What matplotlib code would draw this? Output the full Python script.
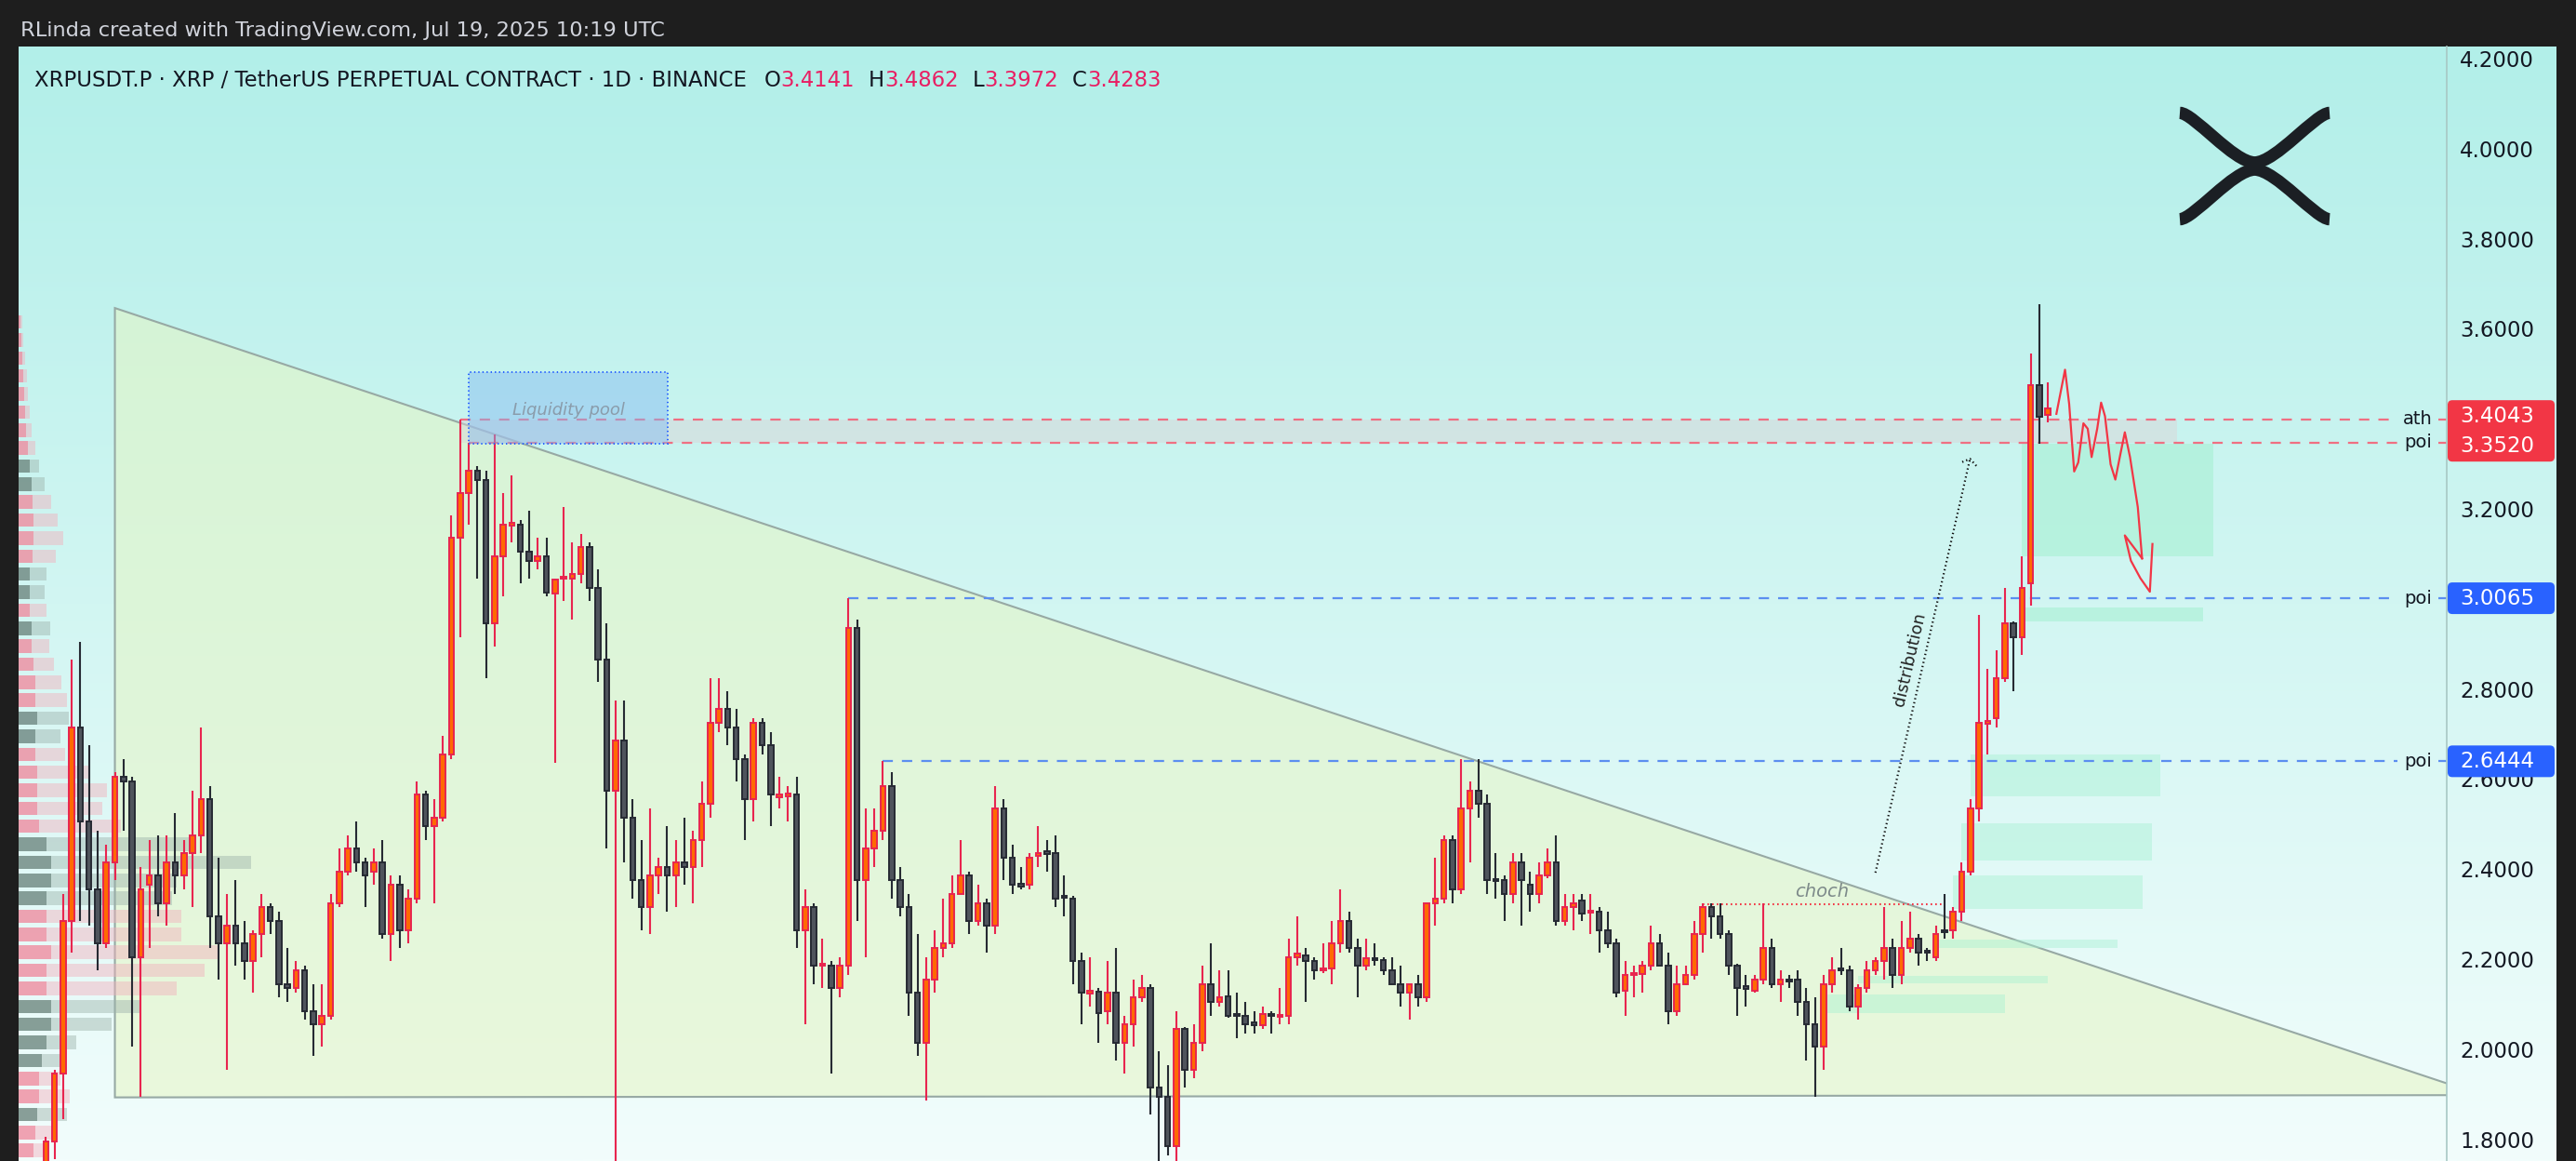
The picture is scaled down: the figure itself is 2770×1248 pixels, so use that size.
import numpy as np
import matplotlib
matplotlib.use("Agg")
import matplotlib.pyplot as plt
from matplotlib.patches import Polygon, Rectangle, FancyBboxPatch, PathPatch
from matplotlib.path import Path
from matplotlib.transforms import IdentityTransform
from matplotlib.lines import Line2D
import matplotlib.colors as mcolors

W, H = 2770, 1248
plt.rcParams['lines.scale_dashes'] = False
plt.rcParams['font.family'] = ['DejaVu Sans']

# ---------------- data (daily candles, XRPUSDT.P) ----------------
opens = [1.70,1.80,1.95,2.29,2.72,2.51,2.36,2.24,2.42,2.61,2.60,2.21,2.37,2.39,2.33,2.42,2.39,2.44,2.48,2.56,
         2.30,2.24,2.28,2.24,2.20,2.26,2.32,2.29,2.15,2.14,2.18,2.09,2.06,2.08,2.33,2.40,2.45,2.42,2.40,2.42,
         2.26,2.37,2.27,2.34,2.57,2.50,2.52,2.66,3.14,3.24,3.29,3.27,2.95,3.10,3.168,3.17,3.11,3.09,3.10,3.016,
         3.05,3.05,3.06,3.12,3.03,2.87,2.58,2.69,2.52,2.38,2.32,2.39,2.41,2.39,2.42,2.41,2.47,2.55,2.73,2.76,
         2.72,2.65,2.56,2.73,2.68,2.565,2.566,2.57,2.27,2.32,2.19,2.19,2.14,2.19,2.94,2.38,2.45,2.49,2.59,2.38,
         2.32,2.13,2.02,2.16,2.23,2.24,2.35,2.39,2.29,2.33,2.28,2.54,2.43,2.373,2.37,2.435,2.443,2.44,2.345,2.34,
         2.20,2.129,2.132,2.09,2.13,2.02,2.06,2.12,2.14,1.92,1.90,1.79,2.05,1.96,2.02,2.15,2.11,2.123,2.08,2.078,
         2.061,2.058,2.082,2.077,2.08,2.21,2.213,2.20,2.18,2.185,2.24,2.29,2.23,2.19,2.207,2.203,2.18,2.15,2.13,2.15,
         2.12,2.33,2.34,2.47,2.36,2.54,2.58,2.55,2.381,2.38,2.35,2.42,2.37,2.35,2.39,2.42,2.29,2.32,2.335,2.308,
         2.31,2.27,2.24,2.135,2.169,2.173,2.19,2.24,2.19,2.09,2.15,2.17,2.26,2.32,2.30,2.26,2.19,2.145,2.135,2.16,
         2.23,2.15,2.16,2.16,2.11,2.06,2.01,2.15,2.185,2.18,2.10,2.14,2.18,2.20,2.23,2.17,2.23,2.25,2.222,2.21,
         2.268,2.27,2.31,2.40,2.54,2.728,2.74,2.83,2.95,2.92,3.04,3.48,3.4141]
highs = [1.81,1.96,2.35,2.87,2.91,2.68,2.49,2.46,2.62,2.65,2.61,2.41,2.47,2.48,2.48,2.53,2.47,2.58,2.72,2.59,
         2.43,2.35,2.38,2.29,2.27,2.35,2.33,2.31,2.23,2.20,2.19,2.15,2.15,2.35,2.45,2.48,2.51,2.43,2.45,2.47,
         2.39,2.39,2.36,2.60,2.58,2.56,2.70,3.19,3.4043,3.352,3.30,3.29,3.37,3.24,3.28,3.18,3.20,3.14,3.14,3.05,
         3.21,3.13,3.15,3.13,3.07,2.95,2.78,2.78,2.56,2.47,2.54,2.43,2.50,2.47,2.52,2.49,2.60,2.83,2.83,2.80,
         2.76,2.66,2.74,2.74,2.71,2.61,2.59,2.61,2.36,2.33,2.25,2.20,2.21,3.0065,2.96,2.54,2.54,2.6444,2.62,2.41,
         2.35,2.26,2.21,2.27,2.34,2.39,2.47,2.40,2.37,2.34,2.59,2.56,2.46,2.41,2.44,2.50,2.47,2.48,2.39,2.345,
         2.22,2.21,2.14,2.20,2.23,2.08,2.16,2.17,2.15,2.00,1.97,2.09,2.055,2.06,2.19,2.24,2.18,2.18,2.13,2.11,
         2.09,2.10,2.09,2.14,2.25,2.30,2.23,2.21,2.24,2.29,2.36,2.31,2.25,2.25,2.24,2.21,2.21,2.19,2.15,2.17,
         2.33,2.43,2.48,2.48,2.65,2.60,2.65,2.57,2.44,2.39,2.44,2.44,2.40,2.42,2.45,2.48,2.35,2.35,2.35,2.35,
         2.32,2.31,2.25,2.20,2.19,2.20,2.28,2.26,2.22,2.19,2.19,2.29,2.33,2.33,2.33,2.27,2.195,2.17,2.17,2.33,
         2.25,2.18,2.17,2.18,2.14,2.12,2.17,2.21,2.23,2.19,2.15,2.20,2.21,2.32,2.25,2.29,2.31,2.26,2.23,2.28,
         2.35,2.32,2.42,2.56,2.97,2.85,2.89,3.03,2.955,3.10,3.55,3.66,3.4862]
lows = [1.65,1.76,1.85,2.22,2.29,2.28,2.18,2.23,2.38,2.49,2.01,1.90,2.23,2.30,2.28,2.35,2.36,2.32,2.44,2.23,
        2.16,1.96,2.19,2.16,2.13,2.21,2.26,2.12,2.11,2.13,2.07,1.99,2.01,2.07,2.32,2.39,2.40,2.32,2.37,2.25,
        2.20,2.23,2.24,2.33,2.47,2.33,2.51,2.65,2.92,3.17,3.05,2.83,2.90,3.01,3.13,3.04,3.05,3.07,3.01,2.64,
        3.00,2.96,3.04,3.00,2.82,2.45,1.75,2.42,2.34,2.27,2.26,2.35,2.31,2.32,2.37,2.33,2.41,2.52,2.71,2.68,
        2.60,2.47,2.51,2.66,2.50,2.54,2.51,2.23,2.06,2.15,2.14,1.95,2.12,2.17,2.29,2.21,2.41,2.47,2.34,2.30,
        2.08,1.99,1.89,2.13,2.21,2.23,2.35,2.26,2.28,2.22,2.26,2.38,2.35,2.36,2.36,2.41,2.40,2.32,2.30,2.15,
        2.06,2.10,2.02,2.06,1.98,1.95,2.01,2.11,1.86,1.75,1.77,1.75,1.92,1.94,2.00,2.08,2.10,2.075,2.03,2.04,
        2.04,2.05,2.04,2.06,2.06,2.19,2.11,2.16,2.175,2.15,2.22,2.22,2.12,2.18,2.19,2.17,2.15,2.10,2.07,2.10,
        2.11,2.28,2.33,2.33,2.35,2.42,2.52,2.35,2.34,2.29,2.33,2.28,2.31,2.33,2.385,2.28,2.28,2.27,2.29,2.26,
        2.22,2.23,2.12,2.08,2.12,2.13,2.18,2.19,2.06,2.08,2.148,2.16,2.22,2.25,2.25,2.17,2.08,2.10,2.13,2.15,
        2.14,2.11,2.14,2.08,1.98,1.90,1.96,2.13,2.17,2.09,2.07,2.13,2.17,2.16,2.14,2.15,2.22,2.19,2.20,2.20,
        2.25,2.25,2.29,2.39,2.51,2.66,2.72,2.82,2.80,2.88,2.99,3.35,3.3972]
closes = [1.80,1.95,2.29,2.72,2.51,2.36,2.24,2.42,2.61,2.60,2.21,2.36,2.39,2.33,2.42,2.39,2.44,2.48,2.56,2.30,
          2.24,2.28,2.24,2.20,2.26,2.32,2.29,2.15,2.14,2.18,2.09,2.06,2.08,2.33,2.40,2.45,2.42,2.39,2.42,2.26,
          2.37,2.27,2.34,2.57,2.50,2.52,2.66,3.14,3.24,3.29,3.27,2.95,3.10,3.17,3.175,3.11,3.09,3.10,3.02,3.047,
          3.055,3.06,3.12,3.03,2.87,2.58,2.69,2.52,2.38,2.32,2.39,2.41,2.39,2.42,2.41,2.47,2.55,2.73,2.76,2.72,
          2.65,2.56,2.73,2.68,2.57,2.57,2.572,2.27,2.32,2.19,2.195,2.14,2.19,2.94,2.38,2.45,2.49,2.59,2.38,2.32,
          2.13,2.02,2.16,2.23,2.24,2.35,2.39,2.29,2.33,2.28,2.54,2.43,2.37,2.366,2.43,2.441,2.439,2.34,2.341,2.20,
          2.13,2.132,2.085,2.13,2.02,2.06,2.12,2.14,1.92,1.90,1.79,2.05,1.96,2.02,2.15,2.11,2.12,2.079,2.078,2.06,
          2.059,2.083,2.079,2.081,2.21,2.218,2.20,2.18,2.185,2.24,2.29,2.23,2.19,2.207,2.203,2.18,2.15,2.13,2.15,2.12,
          2.33,2.34,2.47,2.36,2.54,2.58,2.55,2.38,2.378,2.35,2.42,2.38,2.35,2.39,2.42,2.29,2.32,2.33,2.306,2.312,
          2.27,2.24,2.13,2.17,2.173,2.19,2.24,2.19,2.09,2.15,2.17,2.26,2.32,2.30,2.26,2.19,2.14,2.139,2.16,2.23,
          2.15,2.16,2.155,2.11,2.06,2.01,2.15,2.18,2.18,2.10,2.14,2.18,2.20,2.23,2.17,2.23,2.25,2.22,2.219,2.26,
          2.264,2.31,2.40,2.54,2.73,2.733,2.83,2.95,2.92,3.03,3.48,3.41,3.4283]

price_ticks = [4.2, 4.0, 3.8, 3.6, 3.4, 3.2, 3.0, 2.8, 2.6, 2.4, 2.2, 2.0, 1.8]

# horizontal levels: (price, start candle, label, kind)
level_prices = [3.4043, 3.3520, 3.0065, 2.6444]
level_starts = [48, 49, 93, 97]
level_labels = ['ath', 'poi', 'poi', 'poi']
level_kinds = ['red', 'red', 'blue', 'blue']

# triangle drawing (candle index, price)
tri_x = [8, 8, 282.3]
tri_y = [3.651, 1.898, 1.903]

# liquidity pool box
liq_x = [49.0, 72.1]
liq_y = [3.349, 3.509]

# choch level
choch_price = 2.326
choch_span = [192, 220]

# distribution arrow
dist_x = [212.0, 222.96]
dist_y = [2.397, 3.316]

# imbalance zones (mint rectangles)
zone_x0 = [229, 229, 223, 222, 221, 219, 210, 206]
zone_x1 = [251.2, 250, 245, 244, 243, 240, 232, 227]
zone_lo = [3.10, 2.955, 2.566, 2.423, 2.316, 2.229, 2.152, 2.085]
zone_hi = [3.349, 2.986, 2.660, 2.506, 2.391, 2.248, 2.167, 2.126]

# hand-drawn projection
proj_x = [232.97, 233.97, 234.45, 235.03, 235.5, 236.1, 236.6, 237.05, 237.7, 238.15, 238.6, 239.25,
          239.8, 240.4, 240.9, 241.5, 242.4, 242.9]
proj_y = [3.416, 3.514, 3.438, 3.288, 3.308, 3.395, 3.383, 3.320, 3.383, 3.441, 3.411, 3.304,
          3.270, 3.328, 3.375, 3.320, 3.209, 3.095]
hook_x = [240.9, 241.6, 242.7, 243.8, 244.1]
hook_y = [3.146, 3.09, 3.051, 3.021, 3.127]

# visible-range volume profile (rows)
vp_price = [3.62,3.58,3.54,3.50,3.46,3.42,3.38,3.34,3.30,3.26,3.22,3.18,3.14,3.10,3.06,3.02,2.98,2.94,2.90,2.86,
            2.82,2.78,2.74,2.70,2.66,2.62,2.58,2.54,2.50,2.46,2.42,2.38,2.34,2.30,2.26,2.22,2.18,2.14,2.10,2.06,
            2.02,1.98,1.94,1.90,1.86,1.82,1.78]
vp_total = [4,5,7,9,10,12,14,18,22,28,35,42,48,40,30,28,30,34,33,38,46,52,54,45,50,75,95,90,110,190,
            250,170,165,175,175,215,200,170,130,100,62,45,45,55,52,40,32]
vp_strong = [2,3,4,5,6,7,8,10,12,14,15,16,16,15,12,12,12,14,14,16,18,18,20,18,18,20,20,20,22,30,
             35,35,30,30,30,35,30,30,35,35,30,25,22,22,20,18,16]
vp_hue = "ppppppppggppppggpgppppggpppppggggpppppggggppgpp"

# ---------------- figure ----------------
fig = plt.figure(figsize=(W / 100, H / 100), dpi=100)
fig.patch.set_facecolor('#1e1e1e')

def fx(x):
    return x / W

def fy(y):
    return 1 - y / H

# gradient background (chart + price scale)
bg = fig.add_axes([fx(20), 0, (2749 - 20) / W, (H - 50) / H])
top_c = np.array(mcolors.to_rgb('#b2efe9'))
bot_c = np.array(mcolors.to_rgb('#f2fdfc'))
t = np.linspace(0, 1, 400)[:, None]
grad = (top_c[None, :] * (1 - t) + bot_c[None, :] * t)[:, None, :]
bg.imshow(grad, aspect='auto', extent=[0, 1, 0, 1], origin='upper')
bg.set_xlim(0, 1); bg.set_ylim(0, 1)
bg.axis('off')

ax = fig.add_axes([fx(20), 0, (2631 - 20) / W, (H - 50) / H])
ax.set_facecolor('none')
X0, X1 = -3.157, 278.2
Y0, Y1 = 1.7567, 4.2318
ax.set_xlim(X0, X1)
ax.set_ylim(Y0, Y1)
ax.axis('off')

# triangle
tri = Polygon(list(zip(tri_x, tri_y)), closed=True, facecolor='#e6f5c4', alpha=0.55,
              edgecolor='none', zorder=1)
ax.add_patch(tri)
tri_e = Polygon(list(zip(tri_x, tri_y)), closed=True, facecolor='none',
                edgecolor='#97a9a4', lw=1.5, zorder=1.2)
ax.add_patch(tri_e)

# mint zones
for i, (a, b, lo, hi) in enumerate(zip(zone_x0, zone_x1, zone_lo, zone_hi)):
    ax.add_patch(Rectangle((a, lo), b - a, hi - lo, facecolor='#a4f0d0',
                           alpha=0.55 if i < 2 else 0.42, edgecolor='none', zorder=1.5))

# gray band between ath and poi
ax.add_patch(Rectangle((48, level_prices[1]), 247 - 48, level_prices[0] - level_prices[1],
                       facecolor='#dcd2d6', alpha=0.45, edgecolor='none', zorder=1.6))

# volume profile
pxu = 9.28
for p, tot, st, hu in zip(vp_price, vp_total, vp_strong, vp_hue):
    if hu == 'p':
        c_s, c_l = '#ef7f95', '#f3aebb'
    else:
        c_s, c_l = '#5c766f', '#9db2ab'
    ax.add_patch(Rectangle((X0, p - 0.015), tot / pxu, 0.030, facecolor=c_l, alpha=0.45,
                           edgecolor='none', zorder=2))
    ax.add_patch(Rectangle((X0, p - 0.015), st / pxu, 0.030, facecolor=c_s, alpha=0.6,
                           edgecolor='none', zorder=2.1))

# level lines
lab_x = (2600 - 49.3) / pxu
gap_a = (2578 - 49.3) / pxu
gap_b = (2622 - 49.3) / pxu
for pr, st, lb, kd in zip(level_prices, level_starts, level_labels, level_kinds):
    col = '#ef6f82' if kd == 'red' else '#5b8ef0'
    ax.plot([st, gap_a], [pr, pr], color=col, lw=1.6, ls=(0, (8, 7)), zorder=3)
    ax.plot([gap_b, X1], [pr, pr], color=col, lw=1.6, ls=(0, (8, 7)), zorder=3)
    ax.text(lab_x, pr, lb, ha='center', va='center', fontsize=14, color='#131722', zorder=6)

# choch line
ax.plot(choch_span, [choch_price, choch_price], color='#f23645', lw=1.5, ls=(0, (1.2, 2.4)), zorder=3)
ax.text((choch_span[0] + choch_span[1]) / 2 - 0.2, choch_price + 0.028, 'choch', ha='center',
        va='center', fontsize=14, style='italic', color='#7d8a8a', zorder=6)

# candles
o = np.array(opens); h = np.array(highs); l = np.array(lows); c = np.array(closes)
x = np.arange(len(o))
up = c >= o
body_lo = np.minimum(o, c)
body_h = np.maximum(np.abs(c - o), 0.005)
ax.vlines(x[up], l[up], h[up], color='#e8254f', lw=1.5, zorder=4)
ax.vlines(x[~up], l[~up], h[~up], color='#262a33', lw=1.5, zorder=4)
ax.bar(x[up], body_h[up], bottom=body_lo[up], width=0.6, color='#ff6a00', edgecolor='#e8254f',
       linewidth=1.4, zorder=5)
ax.bar(x[~up], body_h[~up], bottom=body_lo[~up], width=0.6, color='#4f545c', edgecolor='#262a33',
       linewidth=1.4, zorder=5)

# liquidity pool box
ax.add_patch(Rectangle((liq_x[0], liq_y[0]), liq_x[1] - liq_x[0], liq_y[1] - liq_y[0],
                       facecolor='#82b8f2', alpha=0.45, edgecolor='none', zorder=5.5))
ax.add_patch(Rectangle((liq_x[0], liq_y[0]), liq_x[1] - liq_x[0], liq_y[1] - liq_y[0],
                       facecolor='none', edgecolor='#2962ff', lw=1.4, ls=(0, (1, 2.2)), zorder=5.6))
ax.text(sum(liq_x) / 2, 3.425, 'Liquidity pool', ha='center', va='center', fontsize=13,
        style='italic', color='#8a9cab', zorder=6)

# distribution arrow
ax.plot(dist_x, dist_y, color='#111111', lw=1.6, ls=(0, (1, 2.2)), zorder=6)
ax.plot([222.06, dist_x[1], 223.86], [3.309, dist_y[1], 3.297], color='#111111', lw=1.6,
        ls=(0, (1, 2.2)), zorder=6)
ax.text(216.0, 2.87, 'distribution', rotation=77, ha='center', va='center', fontsize=13,
        color='#222222', zorder=6)

# projection path
ax.plot(proj_x, proj_y, color='#f23645', lw=1.6, zorder=6, solid_joinstyle='round')
ax.plot([proj_x[-1]] + hook_x, [proj_y[-1]] + hook_y, color='#f23645', lw=1.6, zorder=6)

# price scale separator
fig.add_artist(Line2D([fx(2631), fx(2631)], [0, fy(50)], color='#a8c8c4', lw=1.2))

# price ticks
ytr = ax.get_yaxis_transform()
xl = (2645 - 20) / (2631 - 20)
for v in price_ticks:
    ax.text(xl, v, f'{v:.4f}', transform=ytr, ha='left', va='center', fontsize=16.5,
            color='#131722', clip_on=False, zorder=7)

# price badges
def badge(vals, color):
    ys = [ax.transData.transform((0, v))[1] for v in vals]
    ys_t = list(ys)
    if len(ys_t) == 2 and abs(ys_t[0] - ys_t[1]) < 32:
        d = 32 - abs(ys_t[0] - ys_t[1])
        ys_t[0] += d * 0.5
        ys_t[1] -= d * 0.5
    top = max(ys_t) + 17
    bot = min(ys_t) - 17
    patch = FancyBboxPatch((2632, bot), 2747 - 2632, top - bot,
                           boxstyle='round,pad=0,rounding_size=5', transform=IdentityTransform(),
                           facecolor=color, edgecolor='none', zorder=8)
    fig.add_artist(patch)
    for v, yy in zip(vals, ys_t):
        fig.text(fx(2645), yy / H, f'{v:.4f}', ha='left', va='center', fontsize=16.5,
                 color='white', zorder=9)

badge([level_prices[0], level_prices[1]], '#f23645')
badge([level_prices[2]], '#2962ff')
badge([level_prices[3]], '#2962ff')

# XRP logo
lax = fig.add_axes([fx(2344), fy(242), 161 / W, 127 / H])
lax.set_xlim(0, 1); lax.set_ylim(0, 1); lax.axis('off')
verts_top = [(0.0, 0.95), (0.09, 0.95), (0.36, 0.53), (0.5, 0.53), (0.64, 0.53), (0.91, 0.95), (1.0, 0.95)]
verts_bot = [(0.0, 0.05), (0.09, 0.05), (0.36, 0.47), (0.5, 0.47), (0.64, 0.47), (0.91, 0.05), (1.0, 0.05)]
codes = [Path.MOVETO, Path.CURVE4, Path.CURVE4, Path.CURVE4, Path.CURVE4, Path.CURVE4, Path.CURVE4]
for vv in (verts_top, verts_bot):
    lax.add_patch(PathPatch(Path(vv, codes), facecolor='none', edgecolor='#1b1f24', lw=9.5,
                            capstyle='butt', clip_on=False))

# header texts
fig.text(fx(22), fy(39), 'RLinda created with TradingView.com, Jul 19, 2025 10:19 UTC',
         ha='left', va='baseline', fontsize=16.2, color='#d1d4dc')

renderer = fig.canvas.get_renderer()
pieces = [('XRPUSDT.P · XRP / TetherUS PERPETUAL CONTRACT · 1D · BINANCE', '#131722', 19),
          ('O', '#131722', 0), ('3.4141', '#e91e63', 15),
          ('H', '#131722', 0), ('3.4862', '#e91e63', 15),
          ('L', '#131722', 0), ('3.3972', '#e91e63', 15),
          ('C', '#131722', 0), ('3.4283', '#e91e63', 0)]
cx = 37
for s, col, gap in pieces:
    tt = fig.text(fx(cx), fy(93), s, ha='left', va='baseline', fontsize=16.4, color=col)
    bb = tt.get_window_extent(renderer=renderer)
    cx += bb.width + gap

fig.savefig('out.png', dpi=100, facecolor=fig.get_facecolor())
